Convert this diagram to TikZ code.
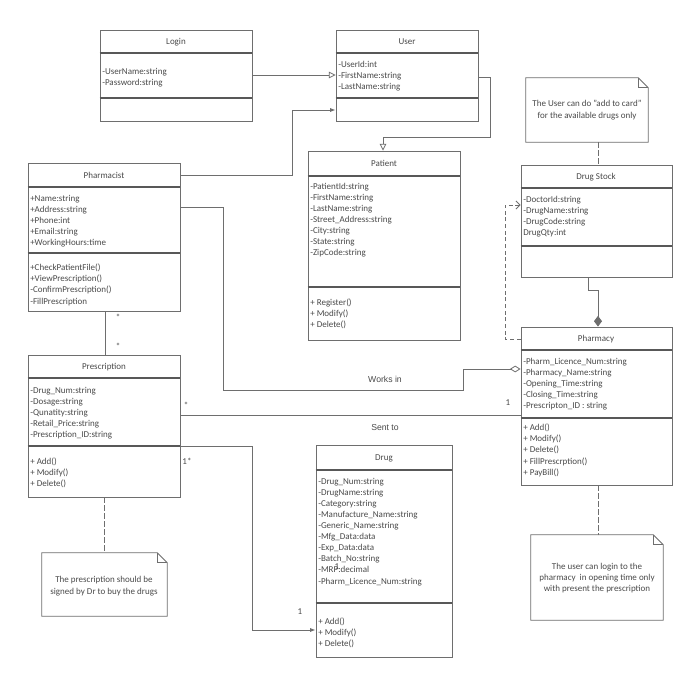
\documentclass[tikz,border=0pt]{standalone}
\usepackage{fontspec}
\setmainfont{Carlito}
\newfontfamily\lblfont{Liberation Sans}
\usepackage{tikz}
\usetikzlibrary{arrows.meta, positioning, calc, fit}
\definecolor{umlline}{HTML}{6E6E6E}
\definecolor{umltext}{HTML}{4A4A4A}

\begin{document}
\begin{tikzpicture}[x=0.75pt, y=-0.75pt,
  classbox/.style={draw=umlline, line width=0.7pt, inner sep=0pt},
  sep/.style={draw=umlline!80!black, line width=0.9pt},
  ttl/.style={font=\fontsize{6.75}{8.25}\selectfont, text=umltext, inner sep=0pt},
  attr/.style={font=\fontsize{6.75}{8.3}\selectfont, text=umltext, align=left,
    inner sep=0pt, anchor=north west},
  notebox/.style={draw=umlline, line width=0.6pt},
  notetxt/.style={font=\fontsize{6.75}{8.5}\selectfont, text=umltext, align=center, inner sep=0pt},
  arr/.style={draw=umlline, line width=0.6pt},
  gen/.style={arr, -{Triangle[open, length=5pt, width=5pt]}},
  nav/.style={arr, -{Latex[length=4pt, width=3pt]}},
  aggr/.style={arr, -{Diamond[open, length=8pt, width=5pt]}},
  comp/.style={arr, -{Diamond[length=8pt, width=6pt]}},
  dep/.style={arr, dash pattern=on 3pt off 2pt, -{Straight Barb[length=3pt, width=6pt]}},
  link/.style={arr, dash pattern=on 4pt off 2pt},
  mult/.style={font=\fontsize{6.75}{8}\selectfont, text=umltext, inner sep=0pt},
  lbl/.style={font=\lblfont\fontsize{6.5}{8}\selectfont, text=umltext, inner sep=0pt},
]
\useasboundingbox[fill=white] (0,0) rectangle (700,680);

% Classes
\node[classbox, fit={(100,30) (252,121)}] (login) {};
\node[classbox, fit={(336,30) (478,121)}] (user) {};
\node[classbox, fit={(308,151) (460,340)}] (patient) {};
\node[classbox, fit={(28,163) (180,311)}] (pharmacist) {};
\node[classbox, fit={(28,355) (180,497)}] (prescription) {};
\node[classbox, fit={(316,445) (452,657)}] (drug) {};
\node[classbox, fit={(521,165) (672,277)}] (stock) {};
\node[classbox, fit={(521,327) (672,485)}] (pharmacy) {};

% Compartments
\draw[sep] (login.west |- 0,53) -- (login.east |- 0,53);
\draw[sep] (login.west |- 0,98) -- (login.east |- 0,98);
\draw[sep] (user.west |- 0,53) -- (user.east |- 0,53);
\draw[sep] (user.west |- 0,98) -- (user.east |- 0,98);
\draw[sep] (patient.west |- 0,176) -- (patient.east |- 0,176);
\draw[sep] (patient.west |- 0,287) -- (patient.east |- 0,287);
\draw[sep] (pharmacist.west |- 0,187) -- (pharmacist.east |- 0,187);
\draw[sep] (pharmacist.west |- 0,253) -- (pharmacist.east |- 0,253);
\draw[sep] (prescription.west |- 0,378) -- (prescription.east |- 0,378);
\draw[sep] (prescription.west |- 0,446) -- (prescription.east |- 0,446);
\draw[sep] (drug.west |- 0,470) -- (drug.east |- 0,470);
\draw[sep] (drug.west |- 0,603) -- (drug.east |- 0,603);
\draw[sep] (stock.west |- 0,188) -- (stock.east |- 0,188);
\draw[sep] (stock.west |- 0,246) -- (stock.east |- 0,246);
\draw[sep] (pharmacy.west |- 0,350) -- (pharmacy.east |- 0,350);
\draw[sep] (pharmacy.west |- 0,418) -- (pharmacy.east |- 0,418);

% Titles
\node[ttl] (login-t) at (176,42) {Login};
\node[ttl] (user-t) at (407,42) {User};
\node[ttl] (patient-t) at (384,163) {Patient};
\node[ttl] (pharmacist-t) at (104,175) {Pharmacist};
\node[ttl] (prescription-t) at (104,367) {Prescription};
\node[ttl] (drug-t) at (384,458) {Drug};
\node[ttl] (stock-t) at (596,177) {Drug Stock};
\node[ttl] (pharmacy-t) at (596,339) {Pharmacy};

% Attributes and operations
\node[attr] (login-a) at (102,68) {-UserName:string\\-Password:string};
\node[attr] (user-a) at (338,61) {-UserId:int\\-FirstName:string\\-LastName:string};
\node[attr] (patient-a) at (310,183) {-PatientId:string\\-FirstName:string\\-LastName:string\\
  -Street\_Address:string\\-City:string\\-State:string\\-ZipCode:string};
\node[attr] (patient-o) at (310,299) {+ Register()\\+ Modify()\\+ Delete()};
\node[attr] (pharmacist-a) at (30,195) {+Name:string\\+Address:string\\+Phone:int\\
  +Email:string\\+WorkingHours:time};
\node[attr] (pharmacist-o) at (30,264) {+CheckPatientFile()\\+ViewPrescription()\\
  -ConfirmPrescription()\\-FillPrescription};
\node[attr] (prescription-a) at (30,387) {-Drug\_Num:string\\-Dosage:string\\-Qunatity:string\\
  -Retail\_Price:string\\-Prescription\_ID:string};
\node[attr] (prescription-o) at (30,458) {+ Add()\\+ Modify()\\+ Delete()};
\node[attr] (drug-a) at (318,478) {-Drug\_Num:string\\-DrugName:string\\-Category:string\\
  -Manufacture\_Name:string\\-Generic\_Name:string\\-Mfg\_Data:data\\-Exp\_Data:data\\
  -Batch\_No:string\\-MRP:decimal\\-Pharm\_Licence\_Num:string};
\node[attr] (drug-o) at (318,618) {+ Add()\\+ Modify()\\+ Delete()};
\node[attr] (stock-a) at (523,196) {-DoctorId:string\\-DrugName:string\\-DrugCode:string\\DrugQty:int};
\node[attr] (pharmacy-a) at (523,358) {-Pharm\_Licence\_Num:string\\-Pharmacy\_Name:string\\
  -Opening\_Time:string\\-Closing\_Time:string\\-Prescripton\_ID : string};
\node[attr] (pharmacy-o) at (523,424) {+ Add()\\+ Modify()\\+ Delete()\\+ FillPrescrption()\\+ PayBill()};

% Notes
\node[fit={(526,78) (648,142)}, inner sep=0pt] (stocknote) {};
\draw[notebox] (stocknote.south west) -- (stocknote.north west) -- ($(stocknote.north east)+(-10,0)$)
  -- ($(stocknote.north east)+(0,10)$) -- (stocknote.south east) -- cycle;
\draw[notebox] ($(stocknote.north east)+(-10,0)$) |- ($(stocknote.north east)+(0,10)$);
\node[notetxt] (stocknote-t) at (stocknote.center) {The User can do "add to card"\\for the available drugs only};

\node[fit={(531,535) (663,620)}, inner sep=0pt] (pharmacynote) {};
\draw[notebox] (pharmacynote.south west) -- (pharmacynote.north west) -- ($(pharmacynote.north east)+(-10,0)$)
  -- ($(pharmacynote.north east)+(0,10)$) -- (pharmacynote.south east) -- cycle;
\draw[notebox] ($(pharmacynote.north east)+(-10,0)$) |- ($(pharmacynote.north east)+(0,10)$);
\node[notetxt] (pharmacynote-t) at (597,578) {The user can login to the\\pharmacy\ \ in opening time only\\with present the prescription};

\node[fit={(42,553) (167,616)}, inner sep=0pt] (prescnote) {};
\draw[notebox] (prescnote.south west) -- (prescnote.north west) -- ($(prescnote.north east)+(-10,0)$)
  -- ($(prescnote.north east)+(0,10)$) -- (prescnote.south east) -- cycle;
\draw[notebox] ($(prescnote.north east)+(-10,0)$) |- ($(prescnote.north east)+(0,10)$);
\node[notetxt] (prescnote-t) at (104,586) {The prescription should be\\signed by Dr to buy the drugs};

% Connectors
\draw[gen] (login.east |- 0,75) -- (user.west |- 0,75);
\draw[nav] (pharmacist.east |- 0,175) -| (292,110) -- (user.west |- 0,110);
\draw[gen] (user.east |- 0,77) -- (490,77) |- (383,137) -- (patient.north -| 383,0);
\draw[aggr] (pharmacist.east |- 0,207) -| (223,390) -| (463,369) -- (pharmacy.west |- 0,369);
\draw[arr] (pharmacist.south -| 105,0) -- (prescription.north -| 105,0);
\draw[arr] (prescription.east |- 0,415) -- (pharmacy.west |- 0,415);
\draw[nav] (prescription.east |- 0,446) -| (252,630) -- (drug.west |- 0,630);
\draw[comp] (stock.south -| 588,0) |- (598,290) -- (pharmacy.north -| 598,0);
\draw[dep] (pharmacy.west |- 0,339) -| (505,205) -- (stock.west |- 0,205);
\draw[link] (stocknote.south -| 598,0) -- (stock.north -| 598,0);
\draw[link] (pharmacy.south -| 598,0) -- (pharmacynote.north -| 598,0);
\draw[link] (prescription.south -| 104,0) -- (prescnote.north -| 104,0);

% Labels
\node[lbl] (works) at (385,379) {Works in};
\node[lbl] (sent) at (385,428) {Sent to};
\node[mult] (m1) at (118,317) {*};
\node[mult] (m2) at (118,346) {*};
\node[mult] (m3) at (186,405) {*};
\node[mult] (m4) at (508,403) {1};
\node[mult] (m5) at (187,461) {1*};
\node[mult] (m6) at (300,612) {1};
\node[mult] (m7) at (337,567) {1};

\end{tikzpicture}
\end{document}
